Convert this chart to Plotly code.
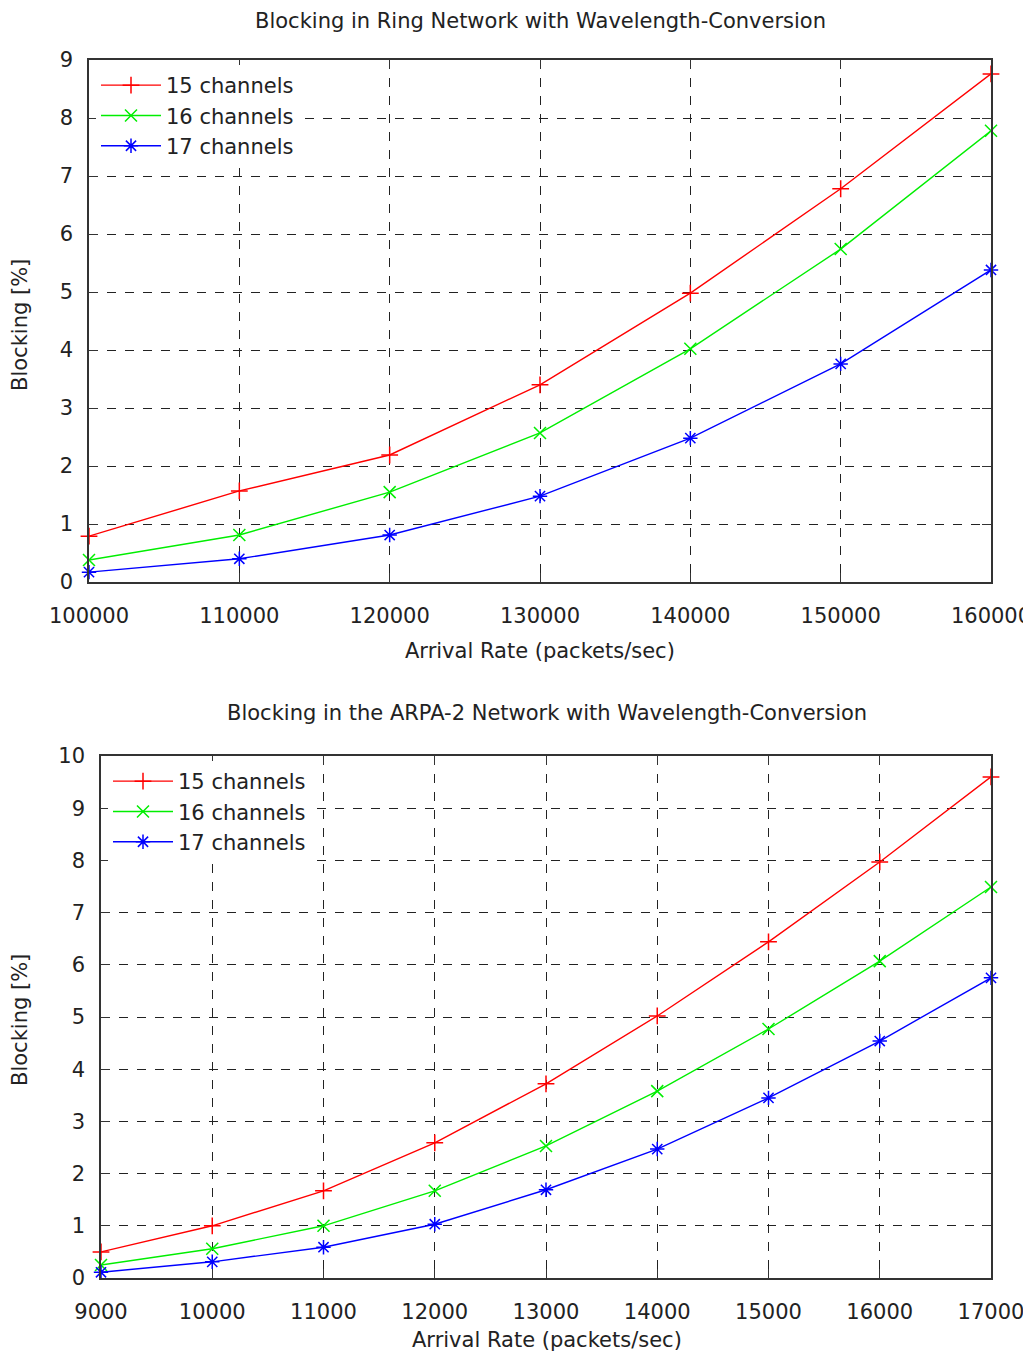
import plotly.graph_objects as go

# ---- data ----
ring_rates = [100000, 110000, 120000, 130000, 140000, 150000, 160000]
ring_15 = [0.79, 1.57, 2.19, 3.40, 4.98, 6.78, 8.76]
ring_16 = [0.38, 0.81, 1.55, 2.57, 4.02, 5.74, 7.78]
ring_17 = [0.17, 0.40, 0.81, 1.48, 2.48, 3.76, 5.38]

arpa_rates = [9000, 10000, 11000, 12000, 13000, 14000, 15000, 16000, 17000]
arpa_15 = [0.50, 1.00, 1.67, 2.59, 3.72, 5.02, 6.44, 7.97, 9.60]
arpa_16 = [0.25, 0.56, 1.00, 1.67, 2.53, 3.58, 4.77, 6.07, 7.49]
arpa_17 = [0.11, 0.31, 0.59, 1.03, 1.69, 2.47, 3.45, 4.54, 5.75]

series_names = ["15 channels", "16 channels", "17 channels"]
series_colors = ["#ff0000", "#00ee00", "#0000ff"]
series_symbols = ["cross-thin-open", "x-thin-open", "asterisk-open"]

# page body has an 8px default margin; compensate
OFF = 8
W, H = 1031 - 2 * OFF, 1362 - 2 * OFF
FONT = "DejaVu Sans"
FS = 21

fig = go.Figure()

def add_series(x, ys, xa, ya, legend):
    for name, y, c, s in zip(series_names, ys, series_colors, series_symbols):
        fig.add_trace(go.Scatter(
            x=x, y=y, name=name, mode="lines+markers",
            line=dict(color=c, width=1.4),
            marker=dict(symbol=s, size=12, color=c, line=dict(color=c, width=1.5)),
            xaxis=xa, yaxis=ya, legend=legend, cliponaxis=False,
        ))

add_series(ring_rates, [ring_15, ring_16, ring_17], "x", "y", "legend")
add_series(arpa_rates, [arpa_15, arpa_16, arpa_17], "x2", "y2", "legend2")

def px_x(p):
    return (p - OFF) / W

def px_y(p):
    return 1 - (p - OFF) / H

axis_common = dict(
    showline=True, linecolor="#333333", linewidth=1.5, mirror="ticks",
    ticks="inside", ticklen=9, tickcolor="#333333", tickwidth=1.2,
    showgrid=True, gridcolor="#222222", griddash="dash", gridwidth=1,
    zeroline=False, tickfont=dict(family=FONT, size=FS, color="#222222"),
    automargin=False, ticklabeloverflow="allow",
)

fig.update_layout(
    width=W, height=H,
    margin=dict(l=0, r=0, t=0, b=0),
    paper_bgcolor="white", plot_bgcolor="white",
    font=dict(family=FONT, size=FS, color="#222222"),
    xaxis=dict(domain=[px_x(89), px_x(991)], range=[100000, 160000], dtick=10000,
               tickformat="d", anchor="y", ticklabelstandoff=14, **axis_common),
    yaxis=dict(domain=[px_y(582), px_y(60)], range=[0, 9], dtick=1, anchor="x",
               ticklabelstandoff=10, **axis_common),
    xaxis2=dict(domain=[px_x(101), px_x(991)], range=[9000, 17000], dtick=1000,
                tickformat="d", anchor="y2", ticklabelstandoff=14, **axis_common),
    yaxis2=dict(domain=[px_y(1278), px_y(756)], range=[0, 10], dtick=1, anchor="x2",
                ticklabelstandoff=10, **axis_common),
    legend=dict(x=px_x(96), y=px_y(65), xanchor="left", yanchor="top",
                bgcolor="white", font=dict(family=FONT, size=FS, color="#222222"),
                itemwidth=60, tracegroupgap=0),
    legend2=dict(x=px_x(108), y=px_y(761), xanchor="left", yanchor="top",
                 bgcolor="white", font=dict(family=FONT, size=FS, color="#222222"),
                 itemwidth=60, tracegroupgap=0),
    showlegend=True,
)

annots = [
    dict(text="Blocking in Ring Network with Wavelength-Conversion", x=px_x(540), y=px_y(21)),
    dict(text="Arrival Rate (packets/sec)", x=px_x(540), y=px_y(651)),
    dict(text="Blocking [%]", x=px_x(20), y=px_y(325), textangle=-90),
    dict(text="Blocking in the ARPA-2 Network with Wavelength-Conversion", x=px_x(547), y=px_y(713)),
    dict(text="Arrival Rate (packets/sec)", x=px_x(547), y=px_y(1340)),
    dict(text="Blocking [%]", x=px_x(20), y=px_y(1020), textangle=-90),
]
for a in annots:
    fig.add_annotation(xref="paper", yref="paper", xanchor="center", yanchor="middle",
                       showarrow=False, font=dict(family=FONT, size=FS, color="#222222"), **a)

fig.write_html("out.html")
